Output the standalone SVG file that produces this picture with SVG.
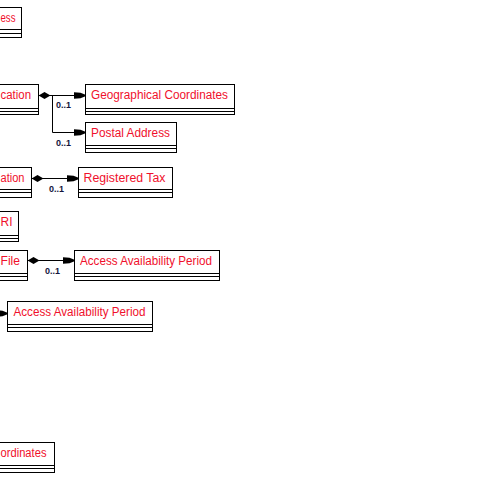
<svg xmlns="http://www.w3.org/2000/svg" width="500" height="500" viewBox="0 0 500 500">
  <style>
    .box { fill: #ffffff; stroke: #000000; stroke-width: 1; }
    .sep { stroke: #000000; stroke-width: 1; }
    .name { font-family: "Liberation Sans", Arial, sans-serif; font-size: 12.5px; fill: #f0102c; }
    .edge { fill: none; stroke: #000000; stroke-width: 1; }
    .mult { font-family: "Liberation Sans", Arial, sans-serif; font-size: 9px; font-weight: bold; fill: #14143c; }
  </style>
  <defs>
    <!-- composition diamond at the owning end -->
    <marker id="diamond" viewBox="0 0 12 8" refX="0" refY="4" markerWidth="12" markerHeight="8" markerUnits="userSpaceOnUse" orient="auto">
      <path d="M0,4 L6,0.5 L12,4 L6,7.5 Z" fill="#000000"/>
    </marker>
    <!-- navigable end arrowhead -->
    <marker id="arrow" viewBox="0 0 12 8" refX="12" refY="4" markerWidth="12" markerHeight="8" markerUnits="userSpaceOnUse" orient="auto">
      <path d="M0,0.8 L7,1.2 L12,3.2 L12,4.8 L7,6.8 L0,7.2 Z" fill="#000000"/>
    </marker>
  </defs>

  <rect width="500" height="500" fill="#ffffff"/>

  <!-- connectors -->
  <g id="connectors">
    <path class="edge" d="M38.5,95.5 H85.5" marker-start="url(#diamond)" marker-end="url(#arrow)"/>
    <path class="edge" d="M52.5,95.5 V132.5 H85.5" marker-end="url(#arrow)"/>
    <path class="edge" d="M31.5,178.5 H78.5" marker-start="url(#diamond)" marker-end="url(#arrow)"/>
    <path class="edge" d="M27.5,260.5 H74.5" marker-start="url(#diamond)" marker-end="url(#arrow)"/>
    <path class="edge" d="M-30,313.5 H7.5" marker-end="url(#arrow)"/>
    <text class="mult" x="56" y="107.5">0..1</text>
    <text class="mult" x="56" y="146">0..1</text>
    <text class="mult" x="49" y="191.5">0..1</text>
    <text class="mult" x="45" y="274">0..1</text>
  </g>

  <!-- class boxes -->
  <g id="address">
    <rect class="box" x="-10" y="7.5" width="31.5" height="30"/>
    <line class="sep" x1="-10" y1="29.5" x2="21.5" y2="29.5"/>
    <line class="sep" x1="-10" y1="33.5" x2="21.5" y2="33.5"/>
    <text class="name" x="0.5" y="22" textLength="15" lengthAdjust="spacingAndGlyphs">ess</text>
  </g>

  <g id="location">
    <rect class="box" x="-10" y="84.5" width="48.5" height="30"/>
    <line class="sep" x1="-10" y1="108.5" x2="38.5" y2="108.5"/>
    <line class="sep" x1="-10" y1="111.5" x2="38.5" y2="111.5"/>
    <text class="name" x="0.5" y="99" textLength="30.5" lengthAdjust="spacingAndGlyphs">cation</text>
  </g>

  <g id="geographical-coordinates">
    <rect class="box" x="85.5" y="84.5" width="149" height="30"/>
    <line class="sep" x1="85.5" y1="108.5" x2="234.5" y2="108.5"/>
    <line class="sep" x1="85.5" y1="111.5" x2="234.5" y2="111.5"/>
    <text class="name" x="91" y="99" textLength="137" lengthAdjust="spacingAndGlyphs">Geographical Coordinates</text>
  </g>

  <g id="postal-address">
    <rect class="box" x="85.5" y="122.5" width="91" height="30"/>
    <line class="sep" x1="85.5" y1="145.5" x2="176.5" y2="145.5"/>
    <line class="sep" x1="85.5" y1="148.5" x2="176.5" y2="148.5"/>
    <text class="name" x="91" y="137" textLength="79" lengthAdjust="spacingAndGlyphs">Postal Address</text>
  </g>

  <g id="registration">
    <rect class="box" x="-10" y="167.5" width="41.5" height="30"/>
    <line class="sep" x1="-10" y1="189.5" x2="31.5" y2="189.5"/>
    <line class="sep" x1="-10" y1="192.5" x2="31.5" y2="192.5"/>
    <text class="name" x="0.5" y="182" textLength="24" lengthAdjust="spacingAndGlyphs">ation</text>
  </g>

  <g id="registered-tax">
    <rect class="box" x="78.5" y="167.5" width="94" height="30"/>
    <line class="sep" x1="78.5" y1="189.5" x2="172.5" y2="189.5"/>
    <line class="sep" x1="78.5" y1="192.5" x2="172.5" y2="192.5"/>
    <text class="name" x="83.5" y="182" textLength="82" lengthAdjust="spacingAndGlyphs">Registered Tax</text>
  </g>

  <g id="uri">
    <rect class="box" x="-10" y="211.5" width="28.5" height="30"/>
    <line class="sep" x1="-10" y1="235.5" x2="18.5" y2="235.5"/>
    <line class="sep" x1="-10" y1="238.5" x2="18.5" y2="238.5"/>
    <text class="name" x="0.5" y="226" textLength="12" lengthAdjust="spacingAndGlyphs">RI</text>
  </g>

  <g id="file">
    <rect class="box" x="-10" y="250.5" width="37.5" height="30"/>
    <line class="sep" x1="-10" y1="273.5" x2="27.5" y2="273.5"/>
    <line class="sep" x1="-10" y1="276.5" x2="27.5" y2="276.5"/>
    <text class="name" x="0.5" y="265" textLength="19.5" lengthAdjust="spacingAndGlyphs">File</text>
  </g>

  <g id="access-availability-period-1">
    <rect class="box" x="74.5" y="250.5" width="145" height="30"/>
    <line class="sep" x1="74.5" y1="273.5" x2="219.5" y2="273.5"/>
    <line class="sep" x1="74.5" y1="276.5" x2="219.5" y2="276.5"/>
    <text class="name" x="80" y="265" textLength="132" lengthAdjust="spacingAndGlyphs">Access Availability Period</text>
  </g>

  <g id="access-availability-period-2">
    <rect class="box" x="7.5" y="301.5" width="145" height="30"/>
    <line class="sep" x1="7.5" y1="324.5" x2="152.5" y2="324.5"/>
    <line class="sep" x1="7.5" y1="327.5" x2="152.5" y2="327.5"/>
    <text class="name" x="13.5" y="316" textLength="132" lengthAdjust="spacingAndGlyphs">Access Availability Period</text>
  </g>

  <g id="coordinates">
    <rect class="box" x="-10" y="442.5" width="64.5" height="30"/>
    <line class="sep" x1="-10" y1="465.5" x2="54.5" y2="465.5"/>
    <line class="sep" x1="-10" y1="468.5" x2="54.5" y2="468.5"/>
    <text class="name" x="0.5" y="457" textLength="46" lengthAdjust="spacingAndGlyphs">ordinates</text>
  </g>
</svg>
